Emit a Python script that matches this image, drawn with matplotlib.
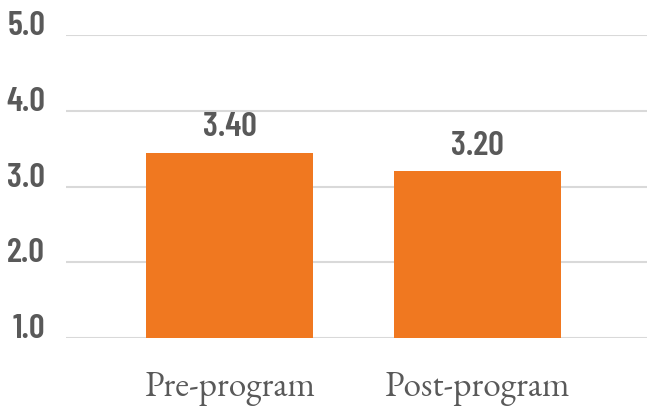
import matplotlib
matplotlib.use("Agg")
import matplotlib.pyplot as plt

categories = ["Pre-program", "Post-program"]
bar_heights = [3.44, 3.20]
value_labels = ["3.40", "3.20"]
y_ticks = [1.0, 2.0, 3.0, 4.0, 5.0]

bar_color = "#F07820"
text_color = "#595959"
grid_color = "#D9D9D9"
num_font = ["Barlow Condensed", "DejaVu Sans"]
cat_font = ["EB Garamond", "Liberation Serif", "DejaVu Serif"]

fig = plt.figure(figsize=(6.47, 4.08), dpi=100)
# axes span: gridlines from x=66 to the right edge, 5.0 at y=35, 1.0 at y=338
ax = fig.add_axes([66 / 647, 1 - 338 / 408, 1 - 66 / 647, 303 / 408])

x = list(range(len(categories)))
ax.bar(x, bar_heights, width=0.672, color=bar_color, zorder=3)

ax.set_ylim(1.0, 5.0)
ax.set_xlim(-0.661, 1.685)
ax.set_yticks(y_ticks)
ax.set_yticklabels([f"{t:.1f}" for t in y_ticks], fontsize=25, fontweight="semibold",
                   color=text_color, family=num_font)
for lbl in ax.get_yticklabels():
    lbl.set_verticalalignment("baseline")
ax.set_xticks(x)
ax.set_xticklabels(categories, fontsize=25.5, color=text_color, family=cat_font)
ax.tick_params(axis="both", length=0)
ax.tick_params(axis="y", pad=15)
ax.tick_params(axis="x", pad=23)

ax.grid(axis="y", color=grid_color, linewidth=1.5, zorder=0)
ax.grid(axis="x", visible=False)
for s in ax.spines.values():
    s.set_visible(False)

for xi, h, lab in zip(x, bar_heights, value_labels):
    ax.text(xi, h + 0.13, lab, ha="center", va="bottom", fontsize=25,
            fontweight="semibold", color=text_color, family=num_font)

fig.savefig("out.png", dpi=100)
